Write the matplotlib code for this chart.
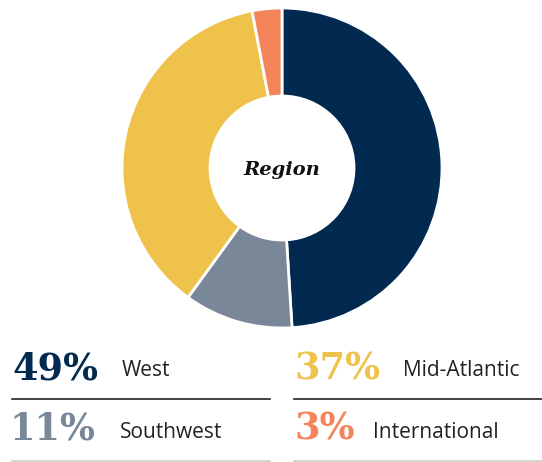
import matplotlib
matplotlib.use("Agg")
import matplotlib.pyplot as plt
from matplotlib.lines import Line2D

W, H = 542, 462

regions = ["West", "Southwest", "Mid-Atlantic", "International"]
shares = [49, 11, 37, 3]
colors = ["#022a50", "#7a8799", "#efc24c", "#f4845a"]

# legend layout: (number x, label x, text y, line y, line color)
legend_pos = {
    "West": (12, 122, 369, 399, "#222222"),
    "Mid-Atlantic": (294, 403, 369, 399, "#222222"),
    "Southwest": (10, 120, 430, 461, "#cccccc"),
    "International": (294, 373, 430, 461, "#cccccc"),
}

def fx(x):
    return x / W

def fy(y):
    return 1 - y / H

fig = plt.figure(figsize=(W / 100, H / 100), dpi=100)

cx, cy, r_out, r_in = 282, 168, 160, 72
ax = fig.add_axes([fx(cx - r_out), fy(cy + r_out), 2 * r_out / W, 2 * r_out / H])
ax.pie(shares, colors=colors, startangle=90, counterclock=False, radius=1,
       wedgeprops=dict(width=1 - r_in / r_out, edgecolor="white", linewidth=2))
ax.set_aspect("equal")
ax.set_xlim(-1, 1)
ax.set_ylim(-1, 1)
ax.axis("off")

fig.text(fx(cx), fy(170), "Region", ha="center", va="center", fontsize=14,
         family="DejaVu Serif", weight="bold", style="italic", color="#111111")

for name, val, col in zip(regions, shares, colors):
    nx, lx, ty, ly, lc = legend_pos[name]
    fig.text(fx(nx), fy(ty), "%d%%" % val, ha="left", va="center", fontsize=26.5,
             family="DejaVu Serif", weight="bold", color=col)
    fig.text(fx(lx), fy(ty + 2), name, ha="left", va="center", fontsize=15,
             family="Open Sans", color="#222222")
    x1 = 270 if nx < 200 else W
    fig.add_artist(Line2D([fx(nx if nx > 200 else 12), fx(x1)], [fy(ly), fy(ly)],
                          transform=fig.transFigure, color=lc, linewidth=1.2))

fig.savefig("out.png", dpi=100)
